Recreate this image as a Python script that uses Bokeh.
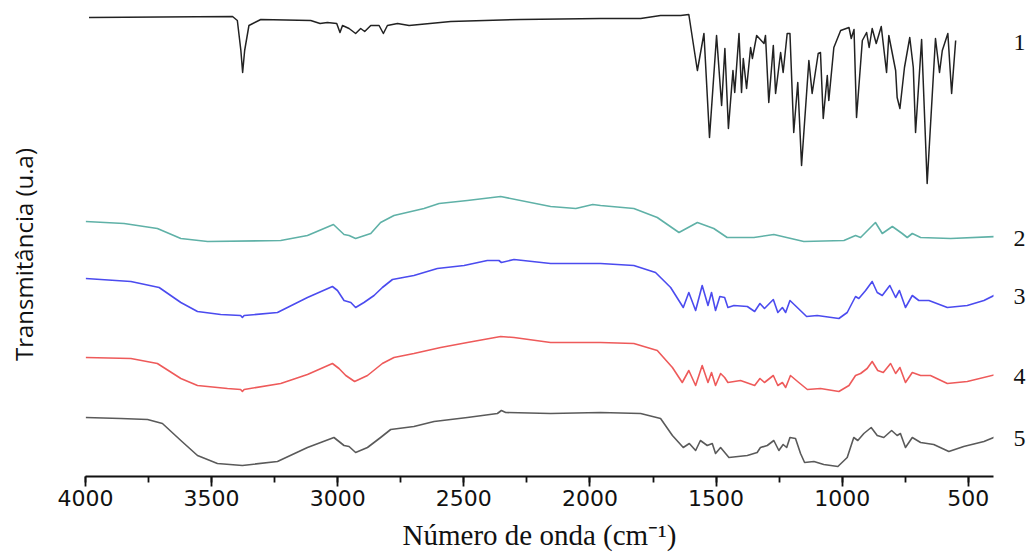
from bokeh.plotting import figure
from bokeh.models import Range1d, SingleIntervalTicker, FixedTicker, LinearAxis
from bokeh.embed import file_html
from bokeh.resources import INLINE

# ---- data (wavenumber in cm^-1, transmittance in arbitrary units, stacked) ----
wn_1 = [3986, 3417, 3398, 3384, 3377, 3369, 3352, 3305, 3107, 3070, 3041, 3004, 2991, 2981, 2955,
        2929, 2909, 2893, 2869, 2836, 2819, 2803, 2763, 2717, 2552, 2275, 1958, 1799, 1720, 1640,
        1608, 1574, 1548, 1526, 1498, 1478, 1465, 1451, 1433, 1426, 1409, 1399, 1392, 1379, 1363,
        1356, 1339, 1310, 1304, 1291, 1273, 1264, 1244, 1234, 1218, 1207, 1192, 1176, 1161, 1132,
        1119, 1095, 1086, 1075, 1059, 1053, 1033, 1006, 973, 964, 953, 943, 920, 903, 893,
        881, 865, 845, 824, 815, 788, 782, 771, 753, 732, 718, 709, 685, 663, 630,
        614, 603, 581, 566, 550]
t_1 = [459, 460, 456, 426, 404, 426, 451, 457, 456, 453, 454, 453, 444, 451, 448,
       443, 448, 445, 451, 451, 443, 451, 453, 451, 455, 457, 458, 458, 461, 461,
       462, 406, 443, 339, 441, 371, 428, 348, 406, 384, 443, 384, 418, 388, 429,
       418, 441, 433, 441, 374, 431, 383, 424, 404, 443, 443, 344, 394, 311, 416,
       383, 423, 424, 358, 401, 376, 429, 446, 449, 438, 447, 359, 436, 444, 429,
       448, 433, 450, 404, 441, 406, 379, 368, 409, 439, 409, 344, 437, 293, 438,
       404, 426, 443, 383, 436]

wn_2 = [3999, 3847, 3715, 3622, 3516, 3226, 3120, 3017, 2975, 2955, 2929, 2869, 2830, 2777, 2658,
        2598, 2486, 2354, 2156, 2056, 1989, 1958, 1826, 1733, 1647, 1574, 1509, 1456, 1350, 1271,
        1152, 993, 947, 927, 868, 841, 801, 762, 742, 722, 689, 570, 390]
t_2 = [255, 253, 248, 238, 235, 236, 241, 252, 242, 241, 238, 243, 254, 261, 268,
       273, 276, 280, 270, 268, 272, 271, 268, 259, 244, 254, 248, 239, 239, 242,
       235, 236, 241, 239, 254, 243, 250, 243, 239, 243, 239, 238, 240]

wn_3 = [3999, 3820, 3708, 3622, 3556, 3464, 3385, 3378, 3371, 3239, 3120, 3021, 3001, 2975, 2948,
        2929, 2896, 2856, 2823, 2783, 2698, 2605, 2499, 2407, 2361, 2351, 2301, 2156, 1958, 1826,
        1740, 1680, 1630, 1608, 1581, 1555, 1532, 1518, 1502, 1485, 1466, 1453, 1429, 1376, 1347,
        1326, 1308, 1273, 1255, 1237, 1224, 1207, 1178, 1141, 1099, 1013, 980, 947, 934, 907,
        881, 861, 841, 811, 788, 773, 749, 722, 696, 656, 583, 504, 438, 390]
t_3 = [198, 195, 189, 174, 165, 162, 161, 159, 161, 164, 179, 190, 186, 176, 174,
       169, 174, 181, 189, 197, 201, 208, 211, 216, 216, 214, 217, 213, 213, 211,
       204, 189, 169, 184, 166, 191, 171, 184, 166, 180, 179, 169, 171, 170, 165,
       173, 168, 177, 164, 169, 164, 176, 169, 160, 161, 158, 164, 180, 178, 186,
       195, 184, 181, 191, 179, 186, 169, 181, 176, 176, 169, 171, 176, 182]

wn_4 = [3999, 3820, 3715, 3622, 3556, 3437, 3385, 3378, 3371, 3226, 3120, 3021, 2995, 2968, 2933,
        2882, 2823, 2777, 2698, 2592, 2486, 2354, 2301, 2156, 1958, 1826, 1733, 1673, 1634, 1608,
        1581, 1555, 1532, 1518, 1502, 1482, 1466, 1453, 1403, 1347, 1326, 1308, 1273, 1255, 1237,
        1224, 1205, 1172, 1138, 1086, 1013, 973, 947, 927, 901, 881, 859, 837, 808, 788,
        771, 749, 722, 689, 650, 583, 504, 390]
t_4 = [119, 118, 113, 98, 91, 88, 87, 85, 87, 93, 102, 113, 108, 101, 95,
       101, 113, 119, 123, 129, 134, 140, 139, 134, 134, 133, 126, 109, 94, 106,
       91, 111, 94, 104, 91, 103, 99, 94, 96, 91, 98, 94, 101, 91, 94,
       89, 101, 94, 87, 88, 85, 91, 101, 103, 108, 115, 106, 104, 113, 103,
       109, 94, 104, 101, 101, 93, 95, 102]

wn_5 = [3999, 3860, 3754, 3695, 3622, 3556, 3477, 3378, 3239, 3120, 3015, 2975, 2955, 2929, 2882,
        2830, 2790, 2698, 2618, 2486, 2367, 2351, 2334, 2156, 1958, 1799, 1720, 1673, 1630, 1606,
        1581, 1562, 1535, 1515, 1502, 1482, 1449, 1376, 1337, 1324, 1297, 1271, 1251, 1234, 1220,
        1207, 1185, 1165, 1149, 1112, 1073, 1017, 980, 954, 938, 914, 885, 861, 835, 804,
        782, 769, 749, 722, 689, 637, 577, 518, 438, 390]
t_5 = [59, 58, 57, 53, 36, 21, 13, 11, 15, 29, 39, 31, 30, 24, 29,
       39, 47, 50, 55, 59, 63, 66, 64, 63, 64, 63, 58, 41, 29, 33,
       26, 36, 31, 33, 23, 29, 19, 21, 24, 29, 31, 36, 26, 32, 29,
       39, 38, 23, 14, 15, 12, 10, 19, 39, 36, 43, 49, 41, 39, 46,
       41, 43, 29, 39, 34, 32, 25, 30, 35, 40]

series_names = ["1", "2", "3", "4", "5"]
x_label = "Número de onda (cm⁻¹)"
y_label = "Transmitância (u.a)"

# ---- styling ----
colors = ["#222222", "#5fb1a7", "#4b4bef", "#ee5a5a", "#5a5a5a"]
widths = [1.5, 1.6, 1.6, 1.6, 1.6]

p = figure(width=1028, height=556,
           x_range=Range1d(4000, 400), y_range=Range1d(0, 476),
           output_backend="svg", toolbar_location=None,
           min_border_left=85, min_border_right=35, min_border_top=0, min_border_bottom=80)
p.background_fill_color = "white"
p.border_fill_color = "white"
p.outline_line_color = None
p.grid.visible = False

all_x = [wn_1, wn_2, wn_3, wn_4, wn_5]
all_y = [t_1, t_2, t_3, t_4, t_5]
for xs, ys, c, w in zip(all_x, all_y, colors, widths):
    p.line(xs, ys, line_color=c, line_width=w, line_join="round")

# series numbers at the right end of each trace (right-hand axis labels)
end_levels = [ys[-1] - 2 for ys in all_y]
r_axis = LinearAxis(ticker=FixedTicker(ticks=end_levels),
                    major_label_overrides={lv: nm for lv, nm in zip(end_levels, series_names)})
r_axis.axis_line_color = None
r_axis.major_tick_line_color = None
r_axis.minor_tick_line_color = None
r_axis.major_tick_in = 0
r_axis.major_tick_out = 0
r_axis.major_label_standoff = 20
r_axis.major_label_text_font = "Liberation Serif"
r_axis.major_label_text_font_size = "24px"
r_axis.major_label_text_color = "#111111"
p.add_layout(r_axis, "right")

# x axis
ax = p.xaxis[0]
ax.ticker = SingleIntervalTicker(interval=500, num_minor_ticks=2)
ax.axis_line_width = 1.8
ax.axis_line_color = "#111111"
ax.major_tick_line_width = 1.8
ax.major_tick_line_color = "#111111"
ax.minor_tick_line_width = 1.8
ax.minor_tick_line_color = "#111111"
ax.major_tick_in = 0
ax.major_tick_out = 10
ax.minor_tick_in = 0
ax.minor_tick_out = 6
ax.major_label_standoff = 3
ax.major_label_text_font = "DejaVu Sans"
ax.major_label_text_font_size = "22px"
ax.major_label_text_color = "#111111"
ax.axis_label = x_label
ax.axis_label_text_font = "Liberation Serif"
ax.axis_label_text_font_size = "29px"
ax.axis_label_text_font_style = "normal"
ax.axis_label_text_color = "#111111"
ax.axis_label_standoff = 10

# y axis: no ticks, only its title, placed at the middle of the stacked traces
y_title_pos = 222
ay = p.yaxis[0]
ay.ticker = FixedTicker(ticks=[y_title_pos])
ay.major_label_overrides = {y_title_pos: y_label}
ay.major_label_orientation = "vertical"
ay.axis_line_color = None
ay.major_tick_line_color = None
ay.minor_tick_line_color = None
ay.major_tick_in = 0
ay.major_tick_out = 0
ay.major_label_standoff = 46
ay.major_label_text_font = "Open Sans"
ay.major_label_text_font_size = "24px"
ay.major_label_text_color = "#111111"

open("out.html", "w").write(file_html(p, INLINE))
